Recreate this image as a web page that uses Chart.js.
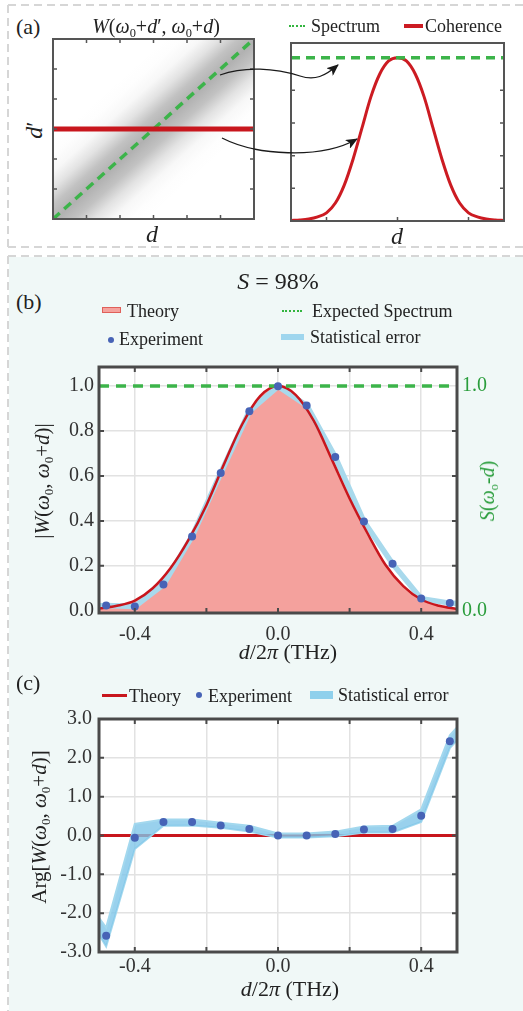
<!DOCTYPE html>
<html>
<head>
<meta charset="utf-8">
<script src="https://cdn.jsdelivr.net/npm/chart.js@4.4.1/dist/chart.umd.min.js"></script>
<style>
  body { margin: 0; width: 523px; height: 1011px; position: relative; background: #fff; overflow: hidden;
         font-family: 'Liberation Serif', 'Times New Roman', serif; color: #222; }
  .abs { position: absolute; white-space: nowrap; line-height: 1; }
  canvas { position: absolute; }
  .c { transform: translate(-50%, -50%); }
  .l { transform: translateY(-50%); }
  .rot { transform: translate(-50%, -50%) rotate(-90deg); }
  i { font-style: italic; }
  sub { font-size: 62%; vertical-align: -0.32em; line-height: 0; }
</style>
</head>
<body>
<div class="abs" style="left:9px;top:257px;right:0;bottom:0;background:#f0f8f7"></div>
<svg class="abs" style="left:0;top:0" width="523" height="1011">
  <g stroke="#d6d6d6" stroke-width="2" stroke-dasharray="8 5" fill="none">
    <line x1="8" y1="5" x2="523" y2="5"/>
    <line x1="8" y1="5" x2="8" y2="247"/>
    <line x1="8" y1="247" x2="523" y2="247"/>
    <line x1="8" y1="256" x2="523" y2="256"/>
    <line x1="8" y1="256" x2="8" y2="1011"/>
  </g>
</svg>

<canvas id="mapChart" width="207" height="186" style="left:50px;top:36px"></canvas>
<canvas id="profileChart" width="219" height="184" style="left:288px;top:40px"></canvas>
<canvas id="ampChart" width="460" height="300" style="left:50px;top:350px"></canvas>
<canvas id="phaseChart" width="460" height="285" style="left:50px;top:700px"></canvas>

<!-- panel (a) texts -->
<div class="abs l" style="left:16px;top:27px;font-size:22px">(a)</div>
<div class="abs c" style="left:156px;top:26px;font-size:20px"><i>W</i>(<i>ω</i><sub>0</sub>+<i>d</i>′, <i>ω</i><sub>0</sub>+<i>d</i>)</div>
<div class="abs" style="left:289px;top:25px;width:16px;border-top:2px dotted #33b53f"></div>
<div class="abs l" style="left:311px;top:26px;font-size:18px">Spectrum</div>
<div class="abs" style="left:404px;top:24px;width:19px;height:4px;background:#cc1b22"></div>
<div class="abs l" style="left:425px;top:26px;font-size:18px">Coherence</div>
<div class="abs rot" style="left:34px;top:130px;font-size:24px"><i>d</i>′</div>
<div class="abs c" style="left:152px;top:234px;font-size:24px"><i>d</i></div>
<div class="abs c" style="left:397px;top:236px;font-size:24px"><i>d</i></div>

<!-- panel (b) texts -->
<div class="abs c" style="left:278px;top:281px;font-size:24px"><i>S</i> = 98%</div>
<div class="abs l" style="left:16px;top:302px;font-size:22px">(b)</div>
<div class="abs" style="left:102px;top:307px;width:17px;height:4px;background:#f5a39e;border:1.5px solid #e0605a"></div>
<div class="abs l" style="left:127px;top:311px;font-size:18px">Theory</div>
<div class="abs" style="left:282px;top:310px;width:20px;border-top:2px dotted #33b53f"></div>
<div class="abs l" style="left:312px;top:311px;font-size:18px">Expected Spectrum</div>
<div class="abs" style="left:108px;top:337px;width:6px;height:6px;border-radius:50%;background:#4763b6"></div>
<div class="abs l" style="left:119px;top:339px;font-size:18px">Experiment</div>
<div class="abs" style="left:281px;top:334px;width:23px;height:6px;background:#9fd6ee"></div>
<div class="abs l" style="left:310px;top:337px;font-size:18px">Statistical error</div>
<div class="abs rot" style="left:42px;top:481px;font-size:21px">|<i>W</i>(<i>ω</i><sub>0</sub>, <i>ω</i><sub>0</sub>+<i>d</i>)|</div>
<div class="abs rot" style="left:487px;top:491px;font-size:20px;color:#2a9d3c"><i>S</i>(<i>ω</i><sub>o</sub>-<i>d</i>)</div>
<div class="abs c" style="left:288px;top:652px;font-size:22px"><i>d</i>/2<i>π</i> (THz)</div>

<!-- panel (c) texts -->
<div class="abs l" style="left:16px;top:683px;font-size:22px">(c)</div>
<div class="abs" style="left:102px;top:694px;width:25px;height:3px;background:#c8161d"></div>
<div class="abs l" style="left:129px;top:696px;font-size:18px">Theory</div>
<div class="abs" style="left:196px;top:692px;width:6px;height:6px;border-radius:50%;background:#4763b6"></div>
<div class="abs l" style="left:208px;top:696px;font-size:18px">Experiment</div>
<div class="abs" style="left:310px;top:691px;width:23px;height:8px;background:#8fd0ec"></div>
<div class="abs l" style="left:338px;top:695px;font-size:18px">Statistical error</div>
<div class="abs rot" style="left:39px;top:827px;font-size:21px">Arg[<i>W</i>(<i>ω</i><sub>0</sub>, <i>ω</i><sub>0</sub>+<i>d</i>)]</div>
<div class="abs c" style="left:290px;top:989px;font-size:22px"><i>d</i>/2<i>π</i> (THz)</div>

<!-- arrows of panel (a) -->
<svg class="abs" style="left:0;top:0" width="523" height="250">
  <defs>
    <marker id="ah" viewBox="0 0 12 10" refX="11" refY="5" markerWidth="12" markerHeight="10" markerUnits="userSpaceOnUse" orient="auto">
      <path d="M0,0 L12,5 L0,10 L3,5 z" fill="#1a1a1a"/>
    </marker>
  </defs>
  <path d="M220,75 C245,66 275,68 300,76 C315,81 325,76 338,65" stroke="#1a1a1a" stroke-width="1.3" fill="none" marker-end="url(#ah)"/>
  <path d="M222,138 C255,155 320,160 357,139" stroke="#1a1a1a" stroke-width="1.3" fill="none" marker-end="url(#ah)"/>
</svg>

<script>
// ---- panel (a): sketch of the cross-spectral density and its cuts ----
const mapDiagX = [0, 6];
const mapDiagY = [0, 6];
const mapBandX = [-2, 8];
const mapBandY = [-2, 8];
const mapCutX = [0, 6];
const mapCutY = [3, 3];
const mapTicks = [1, 2, 3, 4, 5];

const profileX = [-3, -2.75, -2.5, -2.25, -2, -1.75, -1.5, -1.25, -1, -0.75, -0.5, -0.25, 0,
                  0.25, 0.5, 0.75, 1, 1.25, 1.5, 1.75, 2, 2.25, 2.5, 2.75, 3];
const profileY = [0.003, 0.006, 0.012, 0.025, 0.05, 0.11, 0.22, 0.38, 0.57, 0.76, 0.9, 0.98, 1.0,
                  0.98, 0.9, 0.76, 0.57, 0.38, 0.22, 0.11, 0.05, 0.025, 0.012, 0.006, 0.003];
const profileSpecX = [-3, 3];
const profileSpecY = [1, 1];
const profileXTicks = [-2, 0, 2];
const profileYTicks = [0.2, 0.4, 0.6, 0.8];

// ---- panel (b): coherence amplitude ----
const freqX = [-0.48, -0.40, -0.32, -0.24, -0.16, -0.08, 0, 0.08, 0.16, 0.24, 0.32, 0.40, 0.48];
const ampExp = [0.023, 0.019, 0.117, 0.331, 0.613, 0.888, 0.999, 0.914, 0.684, 0.397, 0.209, 0.054, 0.034];
const errX = [-0.5, -0.48, -0.40, -0.32, -0.24, -0.16, -0.08, 0, 0.08, 0.16, 0.24, 0.32, 0.40, 0.48, 0.5];
const ampErr = [0.022, 0.023, 0.019, 0.117, 0.331, 0.613, 0.888, 0.999, 0.914, 0.684, 0.397, 0.209, 0.054, 0.034, 0.032];
const theoryX = [-0.5, -0.45, -0.4, -0.35, -0.3, -0.25, -0.2, -0.15, -0.1, -0.05, 0,
                 0.05, 0.1, 0.15, 0.2, 0.25, 0.3, 0.35, 0.4, 0.45, 0.5];
const ampTheory = [0.01, 0.022, 0.045, 0.1, 0.19, 0.315, 0.47, 0.655, 0.83, 0.955, 1.0,
                   0.96, 0.845, 0.675, 0.5, 0.345, 0.205, 0.11, 0.05, 0.022, 0.008];
const specX = [-0.5, 0.5];
const specY = [1.0, 1.0];
const ampTicks = [0, 0.2, 0.4, 0.6, 0.8, 1.0];
const ampRightLabels = [0, 1.0];

// ---- panel (c): coherence phase ----
const phaseExp = [-2.58, -0.06, 0.345, 0.345, 0.26, 0.17, 0.0, 0.0, 0.04, 0.156, 0.17, 0.51, 2.43];
const phaseUpper = [-2.12, -2.37, 0.30, 0.41, 0.41, 0.33, 0.25, 0.05, 0.05, 0.10, 0.23, 0.25, 0.67, 2.58, 2.78];
const phaseLower = [-2.55, -2.86, -0.35, 0.25, 0.26, 0.20, 0.10, -0.05, -0.05, -0.02, 0.08, 0.08, 0.35, 2.25, 2.45];
const phaseTheoryX = [-0.5, 0.5];
const phaseTheory = [0, 0];
const phaseTicks = [-3, -2, -1, 0, 1, 2, 3];

const gridX = [-0.4, -0.2, 0, 0.2, 0.4];
const labeledX = [-0.4, 0, 0.4];

const RED = '#c8161d';
const GREEN = '#3cb44a';
const DOT = '#4763b6';
const FRAME = '#4a4a4a';
const GRID = '#e2e2e2';
const TXT = '#333';
const FONT = "'Liberation Serif', 'Times New Roman', serif";

const pts = (xs, ys) => xs.map((x, i) => ({ x: x, y: ys[i] }));

// white plot area, box frame and inward tick marks
const framePlugin = {
    id: 'frame',
    beforeDraw(chart) {
        const a = chart.chartArea, ctx = chart.ctx;
        ctx.save();
        ctx.fillStyle = '#fff';
        ctx.fillRect(a.left, a.top, a.width, a.height);
        ctx.restore();
    },
    afterDatasetsDraw(chart, args, o) {
        const { ctx, chartArea: a } = chart;
        const xs = chart.scales.x, ys = chart.scales.y;
        ctx.save();
        ctx.strokeStyle = o.color;
        ctx.lineWidth = o.tickWidth;
        ctx.beginPath();
        o.xTicks.forEach(v => {
            const p = xs.getPixelForValue(v);
            ctx.moveTo(p, a.bottom); ctx.lineTo(p, a.bottom - o.len);
            if (o.top) { ctx.moveTo(p, a.top); ctx.lineTo(p, a.top + o.len); }
        });
        o.yTicks.forEach(v => {
            const p = ys.getPixelForValue(v);
            ctx.moveTo(a.left, p); ctx.lineTo(a.left + o.len, p);
            ctx.moveTo(a.right, p); ctx.lineTo(a.right - o.len, p);
        });
        ctx.stroke();
        ctx.lineWidth = o.width;
        ctx.strokeRect(a.left, a.top, a.width, a.height);
        ctx.restore();
    }
};

// soft grey ridge across the diagonal of the map (perpendicular gradient)
function greyBand(context) {
    const chart = context.chart, a = chart.chartArea;
    if (!a) return 'rgba(0,0,0,0)';
    const len = Math.hypot(a.width, a.height);
    const nx = a.height / len, ny = a.width / len;
    const cx = (a.left + a.right) / 2 + nx * 2, cy = (a.top + a.bottom) / 2 + ny * 2;
    const R = 62;
    const g = chart.ctx.createLinearGradient(cx - nx * R, cy - ny * R, cx + nx * R, cy + ny * R);
    [[0, 0], [0.1, 0.01], [0.2, 0.06], [0.3, 0.22], [0.4, 0.47], [0.5, 0.6], [0.6, 0.47], [0.7, 0.22], [0.8, 0.06], [0.9, 0.01], [1, 0]]
        .forEach(([t, al]) => g.addColorStop(t, 'rgba(125,125,125,' + al + ')'));
    return g;
}

const baseOptions = {
    responsive: false,
    animation: false,
    devicePixelRatio: 1,
    elements: { point: { radius: 0 }, line: { tension: 0 } },
};

function hiddenScales(xmin, xmax, ymin, ymax) {
    return {
        x: { type: 'linear', min: xmin, max: xmax, display: false },
        y: { type: 'linear', min: ymin, max: ymax, display: false }
    };
}

// (a) left: W(d', d) map
new Chart(document.getElementById('mapChart'), {
    type: 'line',
    data: {
        datasets: [
            { data: pts(mapCutX, mapCutY), borderColor: RED, borderWidth: 5, clip: 0, order: 0 },
            { data: pts(mapDiagX, mapDiagY), borderColor: GREEN, borderWidth: 3.5, borderDash: [9, 6], clip: 0, order: 1 },
            { data: pts(mapBandX, mapBandY), borderColor: greyBand, borderWidth: 124, clip: 0, order: 2 }
        ]
    },
    options: Object.assign({}, baseOptions, {
        layout: { padding: 3 },
        scales: hiddenScales(0, 6, 0, 6),
        plugins: {
            legend: { display: false }, tooltip: { enabled: false },
            frame: { color: '#555', width: 2, tickWidth: 1.5, len: 4, top: true, xTicks: mapTicks, yTicks: mapTicks }
        }
    }),
    plugins: [framePlugin]
});

// (a) right: coherence cut and spectrum
new Chart(document.getElementById('profileChart'), {
    type: 'line',
    data: {
        datasets: [
            { data: pts(profileSpecX, profileSpecY), borderColor: GREEN, borderWidth: 3.5, borderDash: [9, 6], clip: 0, order: 0 },
            { data: pts(profileX, profileY), borderColor: '#cc1b22', borderWidth: 3, cubicInterpolationMode: 'monotone', clip: 0, order: 1 }
        ]
    },
    options: Object.assign({}, baseOptions, {
        layout: { padding: 3 },
        scales: hiddenScales(-3, 3, 0, 1.09),
        plugins: {
            legend: { display: false }, tooltip: { enabled: false },
            frame: { color: '#555', width: 2, tickWidth: 1.5, len: 4, top: false, xTicks: profileXTicks, yTicks: profileYTicks }
        }
    }),
    plugins: [framePlugin]
});

function freqAxis(pad, height) {
    return {
        type: 'linear', min: -0.5, max: 0.5,
        afterBuildTicks: s => { s.ticks = gridX.map(v => ({ value: v })); },
        afterFit: s => { s.height = height; },
        ticks: {
            autoSkip: false, maxRotation: 0, padding: pad, color: TXT, font: { family: FONT, size: 20 },
            callback: v => labeledX.some(t => Math.abs(t - v) < 1e-9) ? v.toFixed(1) : ''
        },
        grid: { color: GRID, lineWidth: 1.5, drawTicks: false },
        border: { display: false }
    };
}

// (b) amplitude
new Chart(document.getElementById('ampChart'), {
    type: 'line',
    data: {
        datasets: [
            { label: 'Experiment', data: pts(freqX, ampExp), showLine: false, pointRadius: 4, pointBackgroundColor: DOT, pointBorderWidth: 0, order: 0 },
            { label: 'Expected Spectrum', data: pts(specX, specY), borderColor: GREEN, borderWidth: 3.5, borderDash: [10, 7], clip: 0, order: 1 },
            { label: 'Theory', data: pts(theoryX, ampTheory), borderColor: RED, borderWidth: 2.5, cubicInterpolationMode: 'monotone', clip: 0, order: 2 },
            { label: 'Statistical error', data: pts(errX, ampErr), borderColor: '#a8d9ec', borderWidth: 5.5, borderJoinStyle: 'round', clip: 0, order: 3 },
            { label: 'Theory fill', data: pts(theoryX, ampTheory), borderWidth: 0, fill: 'start', backgroundColor: '#f4a19d', cubicInterpolationMode: 'monotone', clip: 0, order: 4 }
        ]
    },
    options: Object.assign({}, baseOptions, {
        layout: { padding: { top: 8 } },
        scales: {
            x: freqAxis(10, 37),
            y: {
                type: 'linear', min: -0.01, max: 1.085,
                afterBuildTicks: s => { s.ticks = ampTicks.map(v => ({ value: v })); },
                afterFit: s => { s.width = 49; },
                ticks: { padding: 5, color: TXT, font: { family: FONT, size: 20 }, callback: v => v.toFixed(1) },
                grid: { color: GRID, lineWidth: 1.5, drawTicks: false },
                border: { display: false }
            },
            y2: {
                type: 'linear', position: 'right', min: -0.01, max: 1.085,
                afterBuildTicks: s => { s.ticks = ampRightLabels.map(v => ({ value: v })); },
                afterFit: s => { s.width = 53; },
                ticks: { padding: 5, color: '#2a9d3c', font: { family: FONT, size: 20 }, callback: v => v.toFixed(1) },
                grid: { display: false, drawTicks: false },
                border: { display: false }
            }
        },
        plugins: {
            legend: { display: false }, tooltip: { enabled: false },
            frame: { color: FRAME, width: 3, tickWidth: 2, len: 5, top: true, xTicks: gridX, yTicks: ampTicks.slice(1, 5) }
        }
    }),
    plugins: [framePlugin]
});

// (c) phase
new Chart(document.getElementById('phaseChart'), {
    type: 'line',
    data: {
        datasets: [
            { label: 'Experiment', data: pts(freqX, phaseExp), showLine: false, pointRadius: 4, pointBackgroundColor: DOT, pointBorderWidth: 0, order: 0 },
            { label: 'Statistical error', data: pts(errX, phaseUpper), borderColor: '#a3d8ee', borderWidth: 2, fill: '+1', backgroundColor: 'rgba(128,198,233,0.8)', clip: 0, order: 1 },
            { label: 'Statistical error (lower)', data: pts(errX, phaseLower), borderColor: '#a3d8ee', borderWidth: 2, clip: 0, order: 2 },
            { label: 'Theory', data: pts(phaseTheoryX, phaseTheory), borderColor: RED, borderWidth: 3, clip: 0, order: 3 }
        ]
    },
    options: Object.assign({}, baseOptions, {
        layout: { padding: { top: 9, right: 53 } },
        scales: {
            x: freqAxis(3, 33),
            y: {
                type: 'linear', min: -3, max: 3,
                afterBuildTicks: s => { s.ticks = phaseTicks.map(v => ({ value: v })); },
                afterFit: s => { s.width = 49; },
                ticks: { padding: 7, color: TXT, font: { family: FONT, size: 20 }, callback: v => v.toFixed(1) },
                grid: { color: GRID, lineWidth: 1.5, drawTicks: false },
                border: { display: false }
            }
        },
        plugins: {
            legend: { display: false }, tooltip: { enabled: false },
            frame: { color: FRAME, width: 3, tickWidth: 2, len: 5, top: true, xTicks: gridX, yTicks: phaseTicks.slice(1, 6) }
        }
    }),
    plugins: [framePlugin]
});
</script>
</body>
</html>
